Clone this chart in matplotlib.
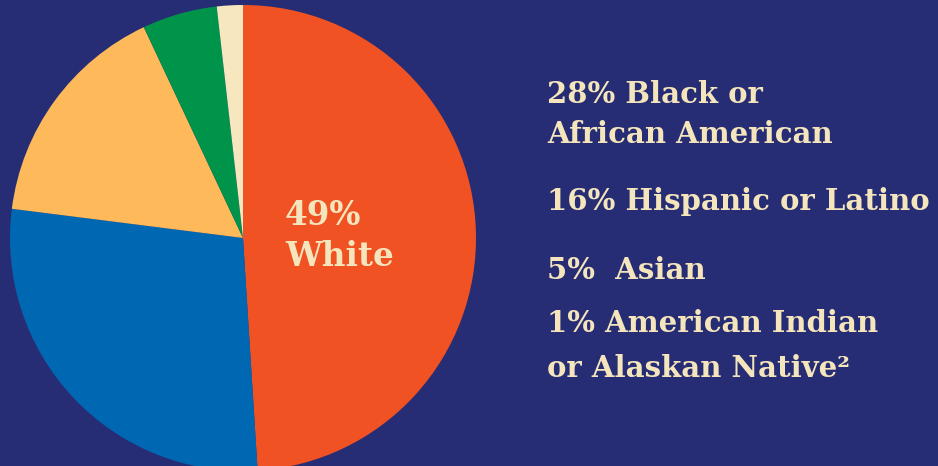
import matplotlib.pyplot as plt

# slice sizes as drawn (clockwise from top)
groups = ['White', 'Black or African American', 'Hispanic or Latino', 'Asian',
          'American Indian or Alaskan Native']
shares = [49, 28, 16, 5.2, 1.8]
colors = ['#F05223', '#0068B3', '#FDB95A', '#00934A', '#F7E7BE']

center_label = ['49%', 'White']
side_labels = ['28% Black or', 'African American', '16% Hispanic or Latino',
               '5%  Asian', '1% American Indian', 'or Alaskan Native\u00b2']

bg = '#262D74'
txt = '#F5E5BC'
W, H = 938, 466

fig = plt.figure(figsize=(W / 100, H / 100), dpi=100, facecolor=bg)
ax = fig.add_axes([10 / W, (H - 471) / H, 466 / W, 466 / H])
ax.set_facecolor(bg)
ax.pie(shares, colors=colors, startangle=90, counterclock=False,
       wedgeprops=dict(linewidth=0), radius=1)
ax.set_xlim(-1, 1)
ax.set_ylim(-1, 1)
ax.set_aspect('auto')
ax.axis('off')

font = dict(family='DejaVu Serif', weight='bold', color=txt)

for lab, yb in zip(center_label, [225, 266]):
    fig.text(285 / W, 1 - yb / H, lab, fontsize=23.5, va='baseline',
             ha='left', **font)

baselines = [103, 143, 210, 279, 332, 377]
for lab, yb in zip(side_labels, baselines):
    fig.text(547 / W, 1 - yb / H, lab, fontsize=21, va='baseline',
             ha='left', **font)

fig.savefig('out.png', dpi=100, facecolor=bg)
